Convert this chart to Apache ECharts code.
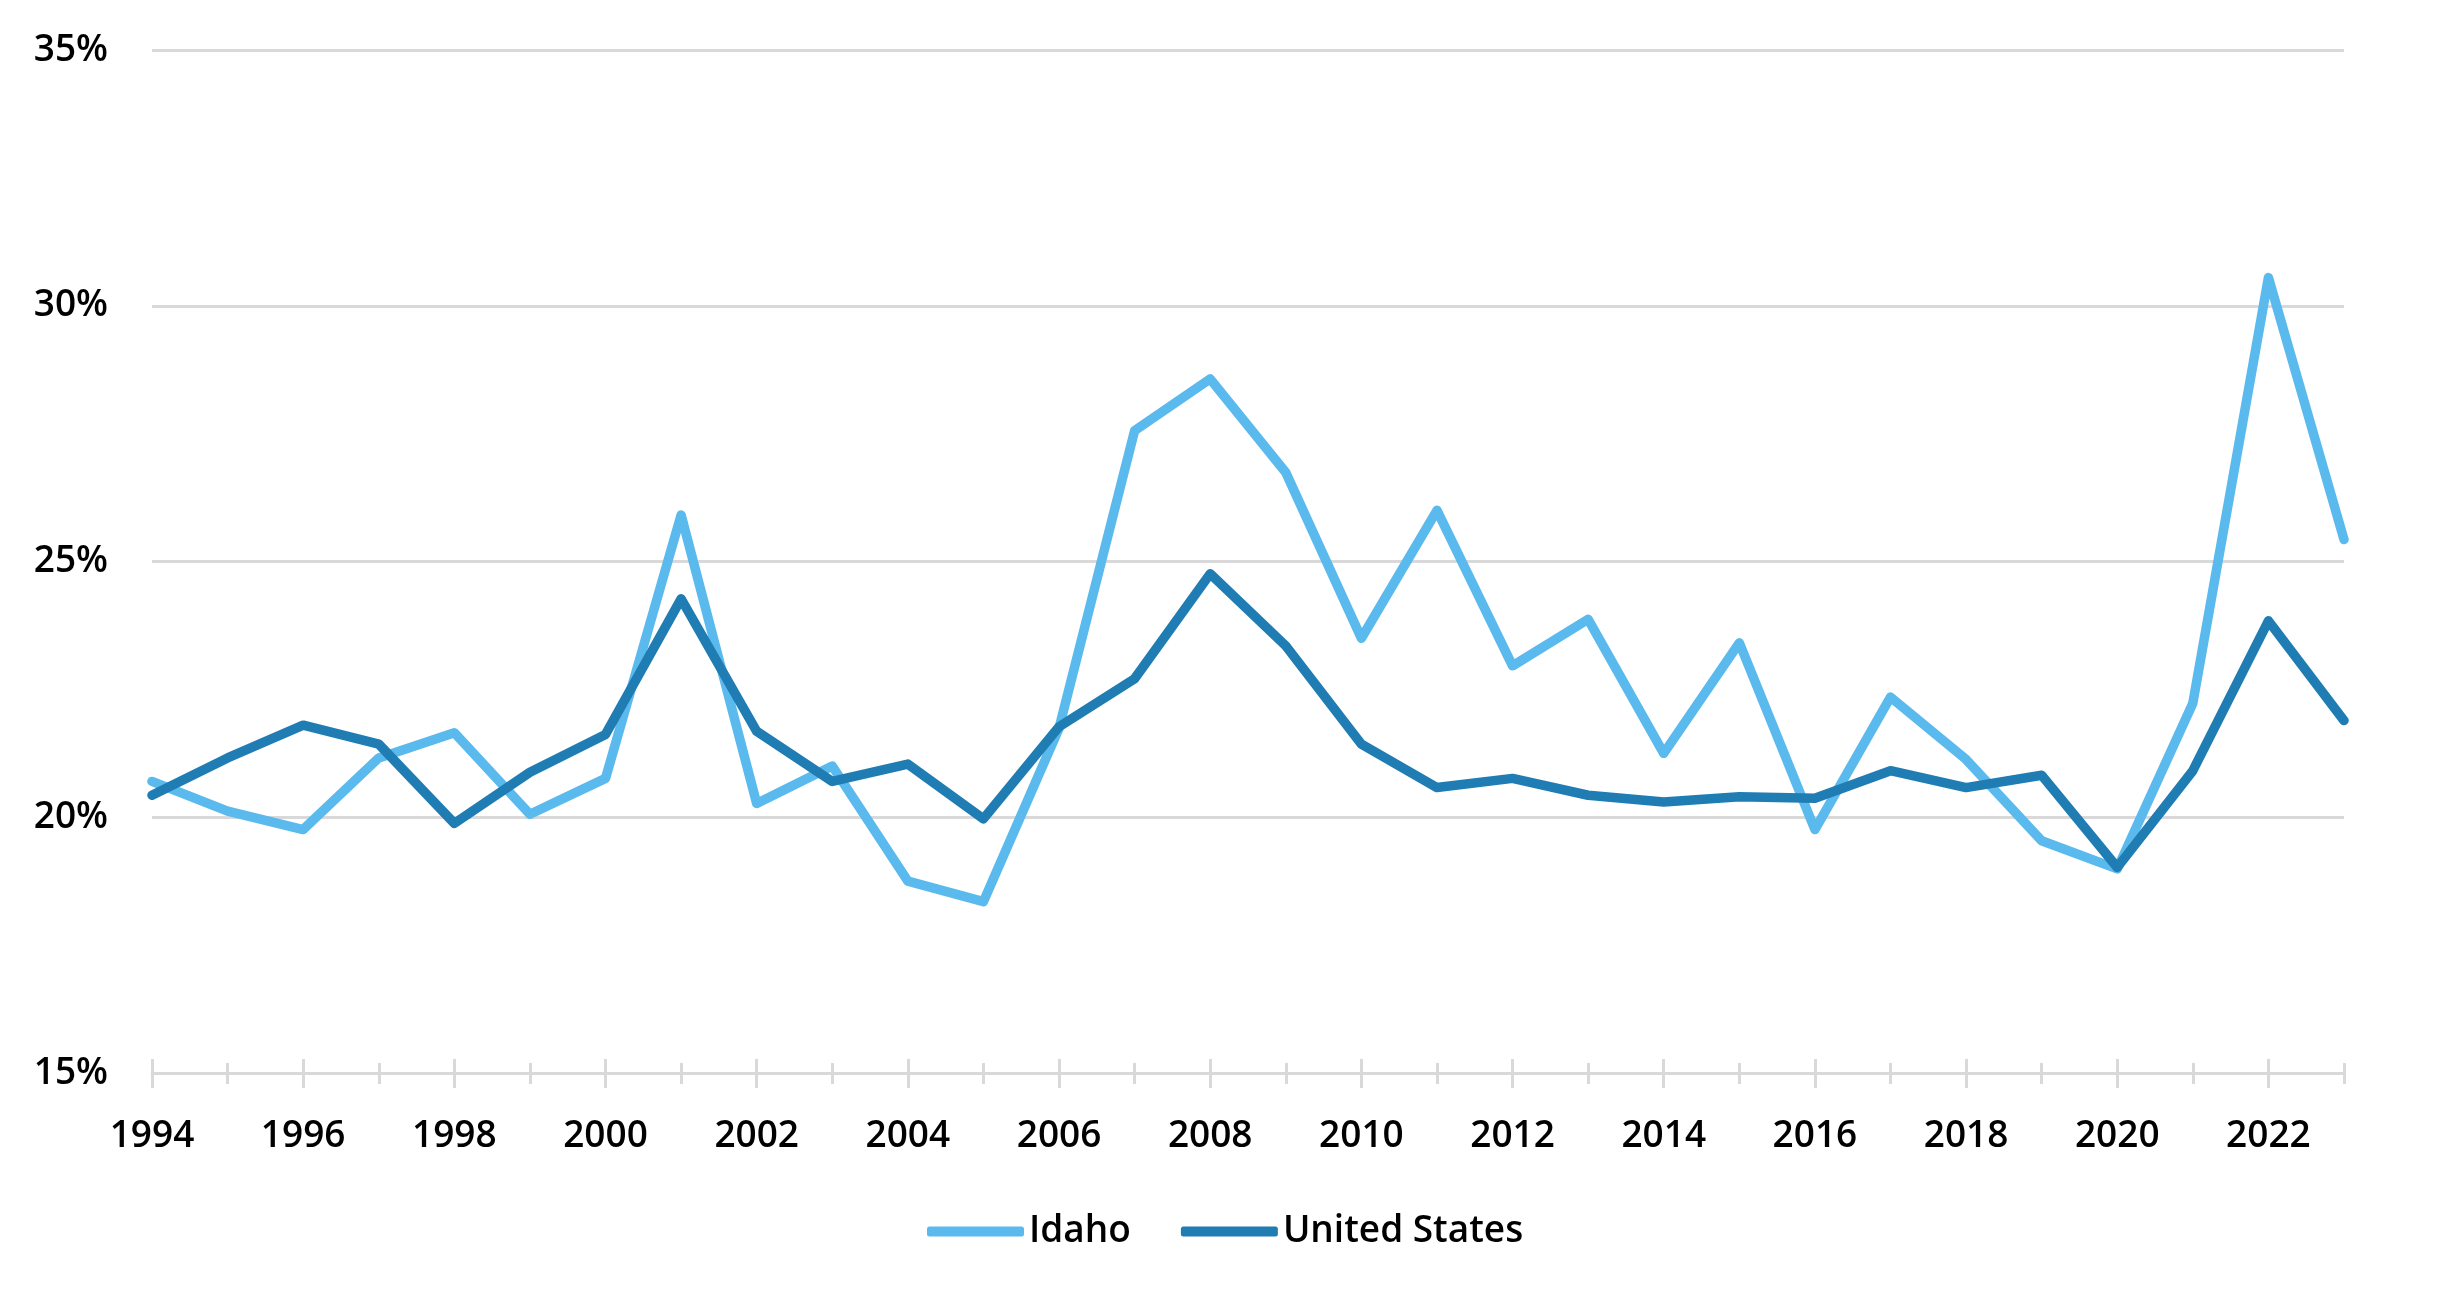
<!DOCTYPE html>
<html>
<head>
<meta charset="utf-8">
<script src="https://cdn.jsdelivr.net/npm/echarts@6/dist/echarts.min.js"></script>
<style>
html,body{margin:0;padding:0;background:#fff;}
#chart{width:2441px;height:1297px;}
</style>
</head>
<body>
<div id="chart"></div>
<script>
const years = ['1994','1995','1996','1997','1998','1999','2000','2001','2002','2003','2004','2005','2006','2007','2008','2009','2010','2011','2012','2013','2014','2015','2016','2017','2018','2019','2020','2021','2022','2023'];
const idaho = [20.70,20.12,19.76,21.16,21.65,20.06,20.76,25.91,20.27,21.00,18.75,18.35,21.74,27.56,28.57,26.74,23.50,26.00,22.96,23.87,21.25,23.41,19.76,22.35,21.13,19.54,18.99,22.23,30.55,25.43];
const unitedStates = [20.43,21.16,21.80,21.43,19.88,20.88,21.62,24.27,21.68,20.70,21.04,19.97,21.77,22.71,24.76,23.35,21.43,20.58,20.76,20.43,20.30,20.40,20.37,20.91,20.58,20.82,19.02,20.91,23.84,21.89];
const yTicks = {min:15, max:35, interval:5};

const FONT = '"Open Sans", "Noto Sans", sans-serif';
const WEIGHT = 600;
const GRAY = '#d9d9d9';
const chart = echarts.init(document.getElementById('chart'));

function tickAxis(inside, len, interval, main){
  return {
    type:'category', data: years, boundaryGap:false, position:'bottom',
    axisLine:{show: !!main, lineStyle:{color:GRAY, width:3}},
    axisTick:{show:true, inside: inside, length: len, interval: interval, alignWithLabel:false, lineStyle:{color:GRAY, width:3}},
    axisLabel: main ? {show:true, interval:1, color:'#000', fontFamily:FONT, fontWeight:WEIGHT, fontSize:37, margin:45} : {show:false},
    splitLine:{show:false}
  };
}

chart.setOption({
  animation:false,
  backgroundColor:'#fff',
  grid:{left:152, right:97, top:50, bottom:224, containLabel:false},
  legend:{
    left:922, top:1208, itemWidth:97, itemHeight:10, itemGap:50, icon:'roundRect',
    textStyle:{color:'#000', fontFamily:FONT, fontWeight:WEIGHT, fontSize:37},
    data:['Idaho','United States']
  },
  xAxis:[
    tickAxis(false, 15, 1, true),
    tickAxis(false, 11, 0, false),
    tickAxis(true, 14, 1, false),
    tickAxis(true, 10, 0, false)
  ],
  yAxis:{
    type:'value', min:yTicks.min, max:yTicks.max, interval:yTicks.interval,
    axisLine:{show:false}, axisTick:{show:false},
    axisLabel:{color:'#000', fontFamily:FONT, fontWeight:WEIGHT, fontSize:37, margin:44, formatter: v => v + '%'},
    splitLine:{show:true, lineStyle:{color:GRAY, width:3}}
  },
  series:[
    {name:'Idaho', type:'line', data:idaho, showSymbol:false, symbol:'none',
     lineStyle:{color:'#5BBAED', width:9.5, cap:'round', join:'round'}, itemStyle:{color:'#5BBAED'}},
    {name:'United States', type:'line', data:unitedStates, showSymbol:false, symbol:'none',
     lineStyle:{color:'#1F7DB4', width:9.5, cap:'round', join:'round'}, itemStyle:{color:'#1F7DB4'}}
  ]
});
</script>
</body>
</html>
